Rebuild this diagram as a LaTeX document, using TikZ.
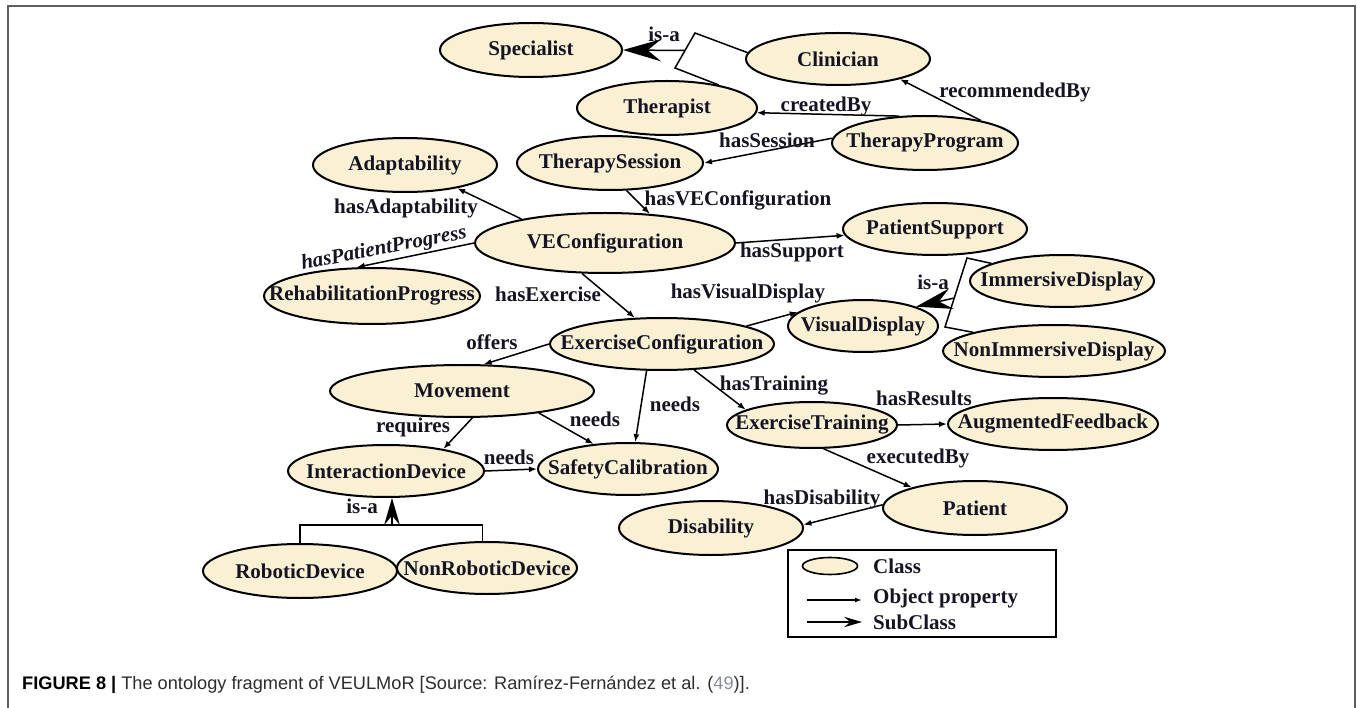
\documentclass[tikz,border=0pt]{standalone}
\usepackage{fontspec}
\setmainfont{Liberation Serif}
\setsansfont{Liberation Sans}
\usetikzlibrary{shapes.geometric,arrows.meta,calc}
\definecolor{cream}{RGB}{250,240,212}
\definecolor{framegray}{RGB}{95,95,95}
\definecolor{captext}{RGB}{45,45,45}
\definecolor{citegray}{RGB}{135,142,152}
\definecolor{ink}{RGB}{20,20,35}
% zero-width label so the ellipse size comes only from the given dimensions
\newcommand\zw[1]{\makebox[0pt]{#1}}

\begin{document}
\begin{tikzpicture}[x=1pt,y=-1pt,
  every node/.style={font=\fontsize{21}{24}\selectfont\bfseries, text=ink},
  cls/.style 2 args={ellipse, draw=black, fill=cream, line width=2pt,
    inner sep=0pt, minimum width=#1pt, minimum height=#2pt},
  plain/.style={line width=1.5pt},
  prop/.style={line width=1.5pt, -{Latex[length=8pt,width=6pt]}},
  isaarrow/.style={line width=1.5pt,
    -{Stealth[length=#1pt,width'=0pt 0.58,inset'=0pt 0.35]}},
  lbl/.style={inner sep=0pt},
]
\useasboundingbox (0,0) rectangle (1357,708);

% outer frame
\draw[framegray, line width=2pt] (7.5,708) -- (7.5,6.5) -- (1354.5,6.5) -- (1354.5,708);

% classes
\node[cls={182}{54}] (spec)   at (531,50)  {\zw{Specialist}};
\node[cls={184}{52}] (clin)   at (838,59)  {\zw{Clinician}};
\node[cls={180}{54}] (ther)   at (667,108) {\zw{Therapist}};
\node[cls={186}{54}] (tprog)  at (925,143) {\zw{TherapyProgram}};
\node[cls={186}{54}] (tsess)  at (610,163) {\zw{TherapySession}};
\node[cls={184}{54}] (adapt)  at (405,165) {\zw{Adaptability}};
\node[cls={260}{60}] (vec)    at (605,243) {\zw{VEConfiguration}};
\node[cls={184}{52}] (psup)   at (935,229) {\zw{PatientSupport}};
\node[cls={216}{56}] (rehab)  at (372,296) {\zw{RehabilitationProgress}};
\node[cls={184}{52}] (imm)    at (1062,281) {\zw{ImmersiveDisplay}};
\node[cls={150}{52}] (vis)    at (863,326) {\zw{VisualDisplay}};
\node[cls={222}{52}] (nonimm) at (1054,351) {\zw{NonImmersiveDisplay}};
\node[cls={224}{52}] (exconf) at (662,344) {\zw{ExerciseConfiguration}};
\node[cls={264}{52}] (move)   at (462,391) {\zw{Movement}};
\node[cls={170}{46}] (extr)   at (812,425) {\zw{ExerciseTraining}};
\node[cls={210}{52}] (aug)    at (1053,424) {\zw{AugmentedFeedback}};
\node[cls={180}{52}] (safe)   at (628,469) {\zw{SafetyCalibration}};
\node[cls={196}{52}] (idev)   at (386,471) {\zw{InteractionDevice}};
\node[cls={194}{54}] (robo)   at (300,571) {\zw{RoboticDevice}};
\node[cls={180}{52}] (nonrobo) at (487,568) {\zw{NonRoboticDevice}};
\node[cls={184}{54}] (dis)    at (711,528) {\zw{Disability}};
\node[cls={184}{54}] (pat)    at (975,508) {\zw{Patient}};

% subclass: Clinician, Therapist -> Specialist
\coordinate (ia) at (695,33);
\coordinate (ib) at (675,68);
\draw[plain] (clin.176) -- (ia) -- (ib) -- (ther.24);
\coordinate (iam) at ($(ia)!0.5!(ib)$);
\draw[isaarrow=38] (iam) -- (spec.east);
\node[lbl] (isa1) at (664,34) {is-a};

% subclass: ImmersiveDisplay, NonImmersiveDisplay -> VisualDisplay
\coordinate (da) at (967,258);
\coordinate (db) at (945,327);
\draw[plain] (imm.166) -- (da) -- (db) -- (nonimm.167);
\coordinate (dam) at ($(da)!0.58!(db)$);
\draw[isaarrow=36] (dam) -- (vis.20);
\node[lbl] (isa2) at (933,282) {is-a};

% subclass: RoboticDevice, NonRoboticDevice -> InteractionDevice
\coordinate (bar) at (392,525);
\draw[plain] (robo.north) |- (bar) -| (nonrobo.100);
\draw[isaarrow=27] (bar) -- (idev.south -| bar);
\node[lbl] (isa3) at (362,506) {is-a};

% object properties
\draw[prop] (tprog.134) -- (ther.-3);
\node[lbl] (l-created) at (826,106) {createdBy};
\draw[prop] (tprog.22) -- (clin.-18);
\node[lbl] (l-recomm) at (1015,92) {recommendedBy};
\draw[prop] (tprog.177) -- (tsess.east);
\node[lbl] (l-session) at (767,140) {hasSession};
\draw[prop] (tsess.-59) -- (vec.33);
\node[lbl] (l-vecfg) at (738,200) {hasVEConfiguration};
\draw[prop] (vec.164) -- (adapt.-24);
\node[lbl] (l-adapt) at (406,208) {hasAdaptability};
\draw[prop] (vec.west) -- (rehab.118);
\node[lbl, rotate=11, font=\fontsize{21}{24}\selectfont\bfseries\itshape] (l-progress) at (384,249) {hasPatientProgress};
\draw[prop] (vec.east) -- (psup.184);
\node[lbl] (l-support) at (792,252) {hasSupport};
\draw[prop] (vec.-127) -- (exconf.136);
\node[lbl] (l-exercise) at (548,294) {hasExercise};
\draw[prop] (exconf.12) -- (vis.168);
\node[lbl] (l-visual) at (748,293) {hasVisualDisplay};
\draw[prop] (exconf.west) -- (move.51);
\node[lbl] (l-offers) at (492,342) {offers};
\draw[prop] (exconf.-120) -- (safe.75);
\node[lbl] (l-needs1) at (675,404) {needs};
\draw[prop] (exconf.-39) -- (extr.167);
\node[lbl] (l-training) at (774,386) {hasTraining};
\draw[prop] (move.-16) -- (safe.144);
\node[lbl] (l-needs2) at (595,419) {needs};
\draw[prop] (move.-69) -- (idev.21);
\node[lbl] (l-requires) at (413,427) {requires};
\draw[prop] (idev.east) -- (safe.west);
\node[lbl] (l-needs3) at (509,457) {needs};
\draw[prop] (extr.east) -- (aug.west);
\node[lbl] (l-results) at (924,398) {hasResults};
\draw[prop] (extr.-64) -- (pat.162);
\node[lbl] (l-executed) at (918,458) {executedBy};
\draw[prop] (pat.178) -- (dis.2);
\node[lbl] (l-disab) at (822,499) {hasDisability};

% legend
\node[draw=black, line width=1.5pt, inner sep=0pt, minimum width=268pt, minimum height=87pt] (legend) at (922,593.5) {};
\node[cls={55}{17}, line width=1.6pt] (legcls) at (830,566) {};
\node[lbl, anchor=west] (legclstxt) at (873,566) {Class};
\coordinate (lo1) at (807,600);
\coordinate (lo2) at (862,600);
\draw[line width=1.4pt, -{Latex[length=7pt,width=5pt]}] (lo1) -- (lo2);
\node[lbl, anchor=west] (legproptxt) at (873,598) {Object property};
\coordinate (ls1) at (807,622);
\coordinate (ls2) at (862,622);
\draw[isaarrow=18] (ls1) -- (ls2);
\node[lbl, anchor=west] (legsubtxt) at (873,622) {SubClass};

% caption
\node[inner sep=0pt, anchor=base west, text=captext,
      font=\sffamily\fontsize{18.2}{22}\selectfont] (caption) at (22,689)
  {{\color{black}\bfseries FIGURE 8 |} The ontology fragment of VEULMoR [Source: Ramírez-Fernández et al. ({\color{citegray}49})].};
\end{tikzpicture}
\end{document}
